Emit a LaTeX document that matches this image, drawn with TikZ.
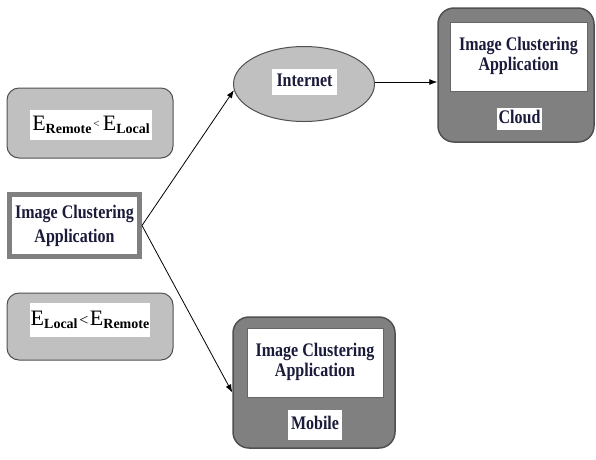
\documentclass[tikz,border=0pt]{standalone}
\usepackage{fontspec}
\setmainfont{Liberation Serif}
\usetikzlibrary{shapes.geometric,arrows.meta}
\definecolor{lightfill}{HTML}{C0C0C0}
\definecolor{darkfill}{HTML}{808080}
\definecolor{edgec}{HTML}{505050}
\definecolor{ink}{HTML}{1A1A3A}
\newcommand\vst[1]{\scalebox{1}[1.2]{\begin{tabular}{@{}c@{}}#1\end{tabular}}}
\newcommand\Esub[1]{{\fontsize{22}{22}\selectfont E}\raisebox{-3.5pt}{\bfseries\fontsize{14}{14}\selectfont #1}}
\begin{document}
\begin{tikzpicture}[x=1pt,y=-1pt,
  lightbox/.style={draw=edgec, line width=1pt, fill=lightfill, rounded corners=12pt, inner sep=0pt},
  darkbox/.style={draw=edgec, line width=1.5pt, fill=darkfill, rounded corners=16pt, inner sep=0pt},
  whitebox/.style={fill=white, inner sep=0pt, text=ink, font=\bfseries\fontsize{16}{16.7}\selectfont},
  innerbox/.style={whitebox, draw=gray!80!black, line width=0.8pt},
  conn/.style={draw=black, line width=0.8pt, -{Latex[length=8pt,width=6pt]}}
]
\useasboundingbox (0,0) rectangle (596,459);

% left boxes
\node[lightbox, minimum width=166pt, minimum height=70pt] (topbox) at (90,123) {};
\node[fill=white, inner sep=0pt, minimum width=122pt, minimum height=30pt] (toplabel) at (91,125)
  {\Esub{Remote}\,\raisebox{3pt}{\fontsize{11}{11}\selectfont<}\,\,\Esub{Local}};

\node[draw=darkfill, line width=5pt, fill=white, inner sep=0pt, minimum width=130pt, minimum height=62pt,
  text=ink, font=\bfseries\fontsize{16}{20.8}\selectfont] (app) at (74.5,225.5)
  {\vst{Image Clustering\\Application}};

\node[lightbox, minimum width=166pt, minimum height=67pt] (botbox) at (90,326.5) {};
\node[fill=white, inner sep=0pt, minimum width=120pt, minimum height=34pt] (botlabel) at (90,320)
  {\Esub{Local}\,{\fontsize{16}{16}\selectfont<}\,\Esub{Remote}};

% internet
\node[ellipse, draw=edgec, line width=1pt, fill=lightfill, minimum width=141pt, minimum height=75pt, inner sep=0pt] (inet) at (304,84) {};
\node[whitebox, minimum width=65pt, minimum height=26pt] (inetlabel) at (304.5,82) {\vst{Internet}};

% cloud
\node[darkbox, minimum width=156pt, minimum height=134pt] (cloud) at (516,75) {};
\node[innerbox, minimum width=137pt, minimum height=69pt] (cloudapp) at (518.5,56.5) {\vst{Image Clustering\\Application}};
\node[whitebox, minimum width=45pt, minimum height=22pt] (cloudlabel) at (519.5,119) {\vst{Cloud}};

% mobile
\node[darkbox, minimum width=162pt, minimum height=131pt] (mob) at (314,382.5) {};
\node[innerbox, minimum width=136pt, minimum height=69pt] (mobapp) at (315,362.5) {\vst{Image Clustering\\Application}};
\node[whitebox, minimum width=54pt, minimum height=30pt] (moblabel) at (315,425) {\vst{Mobile}};

% connectors
\coordinate (mobin) at ([yshift=-10pt]mob.west);
\draw[conn] (app.east) -- (inet.185);
\draw[conn] (app.east) -- (mobin);
\draw[conn] ([yshift=2pt]inet.east) -- ([yshift=2pt]inet.east -| cloud.west);
\end{tikzpicture}
\end{document}
